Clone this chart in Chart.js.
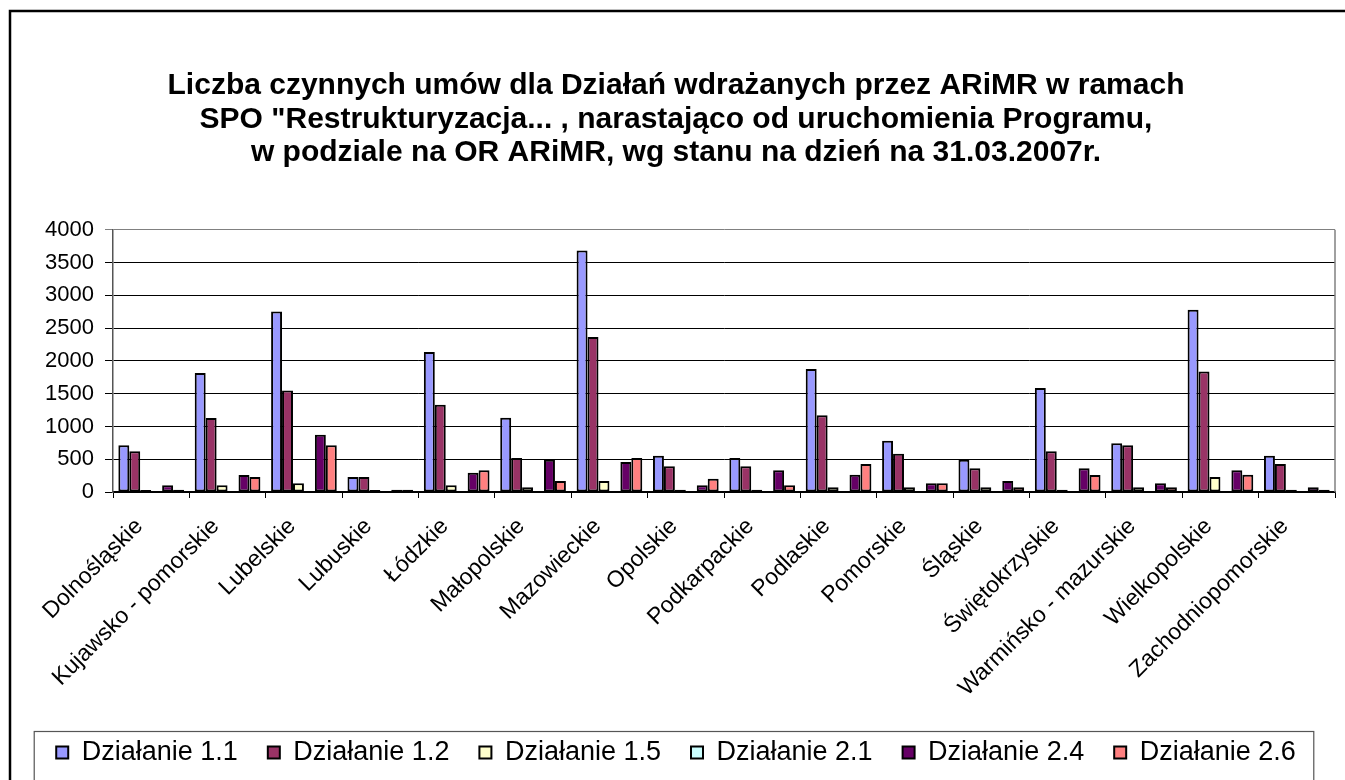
<!DOCTYPE html>
<html>
<head>
<meta charset="utf-8">
<script src="https://cdn.jsdelivr.net/npm/chart.js@4"></script>
<style>
  body { margin: 0; background: #fff; }
</style>
</head>
<body>
<canvas id="chart" width="1345" height="780"></canvas>
<script>
const regions = ['Dolnośląskie', 'Kujawsko - pomorskie', 'Lubelskie', 'Lubuskie', 'Łódzkie',
    'Małopolskie', 'Mazowieckie', 'Opolskie', 'Podkarpackie', 'Podlaskie', 'Pomorskie',
    'Śląskie', 'Świętokrzyskie', 'Warmińsko - mazurskie', 'Wielkopolskie', 'Zachodniopomorskie'];

const dzialanie11 = [712, 1815, 2755, 229, 2135, 1133, 3685, 554, 518, 1876, 783, 493, 1586, 742, 2780, 554];
const dzialanie12 = [620, 1128, 1550, 229, 1332, 518, 2364, 391, 391, 1169, 584, 361, 620, 712, 1840, 427];
const dzialanie15 = [30, 102, 132, 30, 102, 71, 168, 36, 36, 71, 71, 71, 36, 71, 229, 36];
const dzialanie21 = [0, 0, 0, 0, 0, 0, 0, 0, 0, 0, 0, 0, 0, 15, 0, 0];
const dzialanie24 = [102, 259, 874, 36, 295, 493, 457, 102, 330, 264, 132, 168, 361, 132, 330, 71];
const dzialanie26 = [36, 229, 712, 36, 330, 168, 518, 203, 102, 427, 132, 71, 259, 71, 264, 36];

const yTicks = [0, 500, 1000, 1500, 2000, 2500, 3000, 3500, 4000];

const titleLines = [
    'Liczba czynnych umów dla Działań wdrażanych przez ARiMR w ramach',
    'SPO "Restrukturyzacja... , narastająco od uruchomienia Programu,',
    'w podziale na OR ARiMR, wg stanu na dzień na 31.03.2007r.'
];

const FONT = '"Liberation Sans", Arial, sans-serif';

// white background, outer frame, plot border and legend frame
const framePlugin = {
    id: 'framePlugin',
    beforeDraw(chart) {
        const ctx = chart.ctx;
        ctx.save();
        ctx.fillStyle = '#fff';
        ctx.fillRect(0, 0, chart.width, chart.height);
        ctx.restore();
    },
    afterDraw(chart) {
        const ctx = chart.ctx;
        const a = chart.chartArea;
        ctx.save();
        ctx.strokeStyle = '#808080';
        ctx.lineWidth = 1.5;
        ctx.beginPath();
        ctx.moveTo(a.right, a.top);
        ctx.lineTo(a.right, a.bottom);
        ctx.stroke();

        ctx.strokeStyle = '#000';
        ctx.lineWidth = 2.5;
        ctx.strokeRect(10, 11, chart.width + 20, chart.height + 20);

        const boxes = chart.legend.legendHitBoxes;
        if (boxes && boxes.length) {
            const first = boxes[0];
            const last = boxes[boxes.length - 1];
            const left = first.left - 22;
            const right = last.left + last.width + 18;
            const top = first.top + first.height / 2 - 21;
            ctx.strokeStyle = '#555';
            ctx.lineWidth = 1.2;
            ctx.strokeRect(left, top, right - left, chart.height);
        }
        ctx.restore();
    }
};

const ctx = document.getElementById('chart').getContext('2d');
const chart = new Chart(ctx, {
    type: 'bar',
    data: {
        labels: regions,
        datasets: [
            { label: 'Działanie 1.1', data: dzialanie11, backgroundColor: '#9999FF' },
            { label: 'Działanie 1.2', data: dzialanie12, backgroundColor: '#993366' },
            { label: 'Działanie 1.5', data: dzialanie15, backgroundColor: '#FFFFCC' },
            { label: 'Działanie 2.1', data: dzialanie21, backgroundColor: '#CCFFFF' },
            { label: 'Działanie 2.4', data: dzialanie24, backgroundColor: '#660066' },
            { label: 'Działanie 2.6', data: dzialanie26, backgroundColor: '#FF8080' }
        ].map(d => Object.assign(d, {
            borderColor: '#000',
            borderWidth: 2,
            borderSkipped: false,
            categoryPercentage: 0.86,
            barPercentage: 1.0
        }))
    },
    options: {
        responsive: false,
        animation: false,
        layout: { padding: { top: 0, left: 17, right: 10, bottom: 4 } },
        plugins: {
            tooltip: { enabled: false },
            title: {
                display: true,
                text: titleLines,
                color: '#000',
                font: { family: FONT, size: 30, weight: 'bold', lineHeight: 1.12 },
                padding: { top: 69, bottom: 60 }
            },
            legend: {
                position: 'bottom',
                labels: {
                    color: '#000',
                    font: { family: FONT, size: 27 },
                    boxWidth: 12,
                    boxHeight: 12,
                    padding: 30
                }
            }
        },
        scales: {
            x: {
                grid: {
                    display: true,
                    offset: true,
                    drawOnChartArea: false,
                    drawTicks: true,
                    tickLength: 6,
                    color: '#000'
                },
                border: { color: '#000', width: 1.5 },
                ticks: {
                    color: '#000',
                    font: { family: FONT, size: 23 },
                    maxRotation: 45,
                    minRotation: 45,
                    padding: 15,
                    labelOffset: -12,
                    autoSkip: false
                },
                afterFit(scale) { scale.height = 217; }
            },
            y: {
                min: 0,
                max: 4000,
                afterBuildTicks(scale) { scale.ticks = yTicks.map(v => ({ value: v })); },
                grid: {
                    color: c => (c.tick && c.tick.value === 4000 ? '#808080' : '#000'),
                    lineWidth: 1,
                    tickLength: 8
                },
                border: { color: '#555', width: 1.5 },
                ticks: {
                    color: '#000',
                    font: { family: FONT, size: 22 },
                    padding: 11,
                    autoSkip: false,
                    callback: v => String(v)
                },
                afterFit(scale) { scale.width = 96; }
            }
        }
    },
    plugins: [framePlugin]
});
</script>
</body>
</html>
